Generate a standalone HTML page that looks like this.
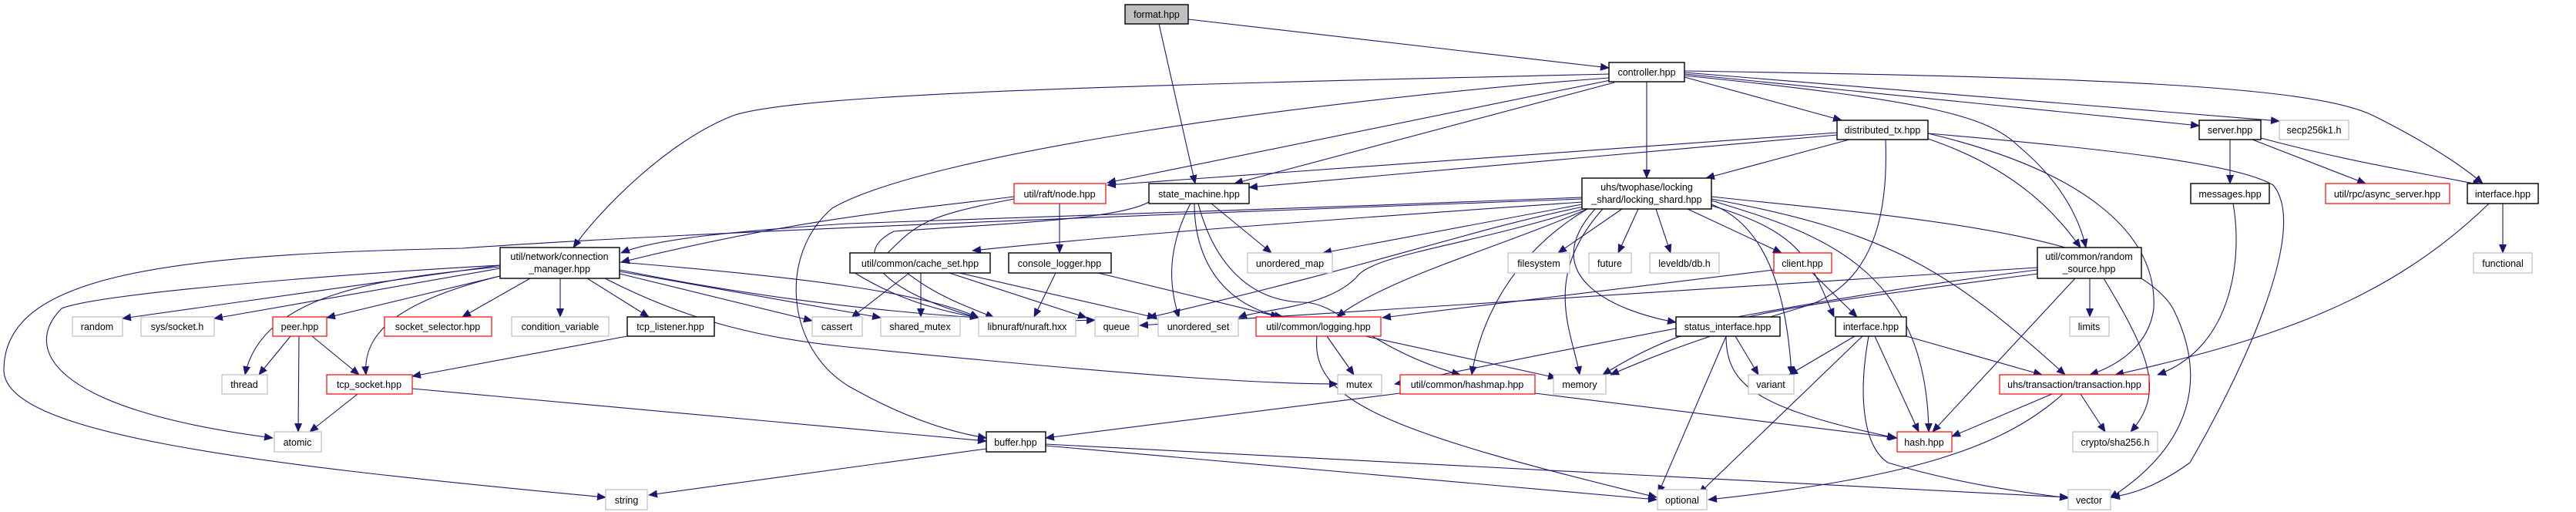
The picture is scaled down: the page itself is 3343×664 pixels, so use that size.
<!DOCTYPE html>
<html><head><meta charset="utf-8"><style>
html,body{margin:0;padding:0;background:#fff;}
svg{display:block}
text{font-family:"Liberation Sans",sans-serif;font-size:12.5px;fill:#000;text-anchor:middle}
.n{fill:#fff;stroke:#000;stroke-width:1.4}
.r{fill:#fff;stroke:#f00;stroke-width:1.2}
.g{fill:#fff;stroke:#bfbfbf;stroke-width:1.2}
.e{fill:none;stroke:#191970;stroke-width:1.1}
</style></head><body>
<svg width="3343" height="664" viewBox="0 0 3343 664" xmlns="http://www.w3.org/2000/svg">
<defs><marker id="a" markerUnits="userSpaceOnUse" markerWidth="12" markerHeight="10" refX="11" refY="5" orient="auto"><path d="M0,0 L12,5 L0,10 z" fill="#191970"/></marker></defs>
<g marker-end="url(#a)">
<path class="e" d="M1542,25 L2088,88"/>
<path class="e" d="M1504,31 L1551,238"/>
<path class="e" d="M2088,96 C1500,110 1050,120 954,149 C870,180 780,270 744,321"/>
<path class="e" d="M2088,101 C1700,130 1200,200 1080,270 C1010,330 1020,450 1100,500 C1170,540 1230,560 1280,568"/>
<path class="e" d="M2090,104 L1437,237"/>
<path class="e" d="M2095,107 L1602,238"/>
<path class="e" d="M2137,106 L2137,231"/>
<path class="e" d="M2186,100 L2390,156"/>
<path class="e" d="M2186,96 L2854,163"/>
<path class="e" d="M2186,94 L2958,157"/>
<path class="e" d="M2186,92 C2700,100 3000,110 3080,150 C3150,185 3195,215 3222,238"/>
<path class="e" d="M2186,98 C2500,130 2580,150 2620,190 C2680,240 2700,290 2707,321"/>
<path class="e" d="M2053,256 C1700,270 1250,285 1100,290 C950,300 850,310 806,328"/>
<path class="e" d="M2053,258 C1600,275 900,300 600,322 C200,330 5,360 5,480 C5,560 300,600 786,645"/>
<path class="e" d="M2053,262 C1800,280 1500,300 1262,325"/>
<path class="e" d="M2053,265 L1717,328"/>
<path class="e" d="M2055,268 C1900,300 1800,340 1490,412"/>
<path class="e" d="M2058,270 C1900,320 1780,330 1760,360 C1720,400 1640,400 1607,412"/>
<path class="e" d="M2060,271 C1950,320 1800,360 1735,411"/>
<path class="e" d="M2105,271 L2022,328"/>
<path class="e" d="M2126,271 L2100,328"/>
<path class="e" d="M2149,271 L2168,328"/>
<path class="e" d="M2190,271 L2312,328"/>
<path class="e" d="M2070,271 C1990,360 2100,405 2175,418"/>
<path class="e" d="M2060,271 C1960,330 1920,420 1910,486"/>
<path class="e" d="M2215,265 C2340,300 2350,340 2380,411"/>
<path class="e" d="M2215,263 C2300,290 2320,400 2325,486"/>
<path class="e" d="M2221,260 C2350,300 2500,340 2503,560"/>
<path class="e" d="M2221,258 C2450,300 2530,350 2680,486"/>
<path class="e" d="M2221,255 C2450,280 2760,300 2820,400 C2880,520 2810,600 2738,646"/>
<path class="e" d="M2080,271 C2000,360 2040,430 2050,486"/>
<path class="e" d="M649,344 L159,413"/>
<path class="e" d="M649,348 L278,413"/>
<path class="e" d="M649,358 L424,412"/>
<path class="e" d="M649,346 C500,360 340,380 318,486"/>
<path class="e" d="M649,358 C520,390 470,430 475,486"/>
<path class="e" d="M649,344 C450,355 130,380 80,400 C30,450 60,530 354,568"/>
<path class="e" d="M688,361 L600,411"/>
<path class="e" d="M727,361 L727,411"/>
<path class="e" d="M762,361 L842,411"/>
<path class="e" d="M804,355 L1054,416"/>
<path class="e" d="M804,352 L1143,412"/>
<path class="e" d="M804,340 C1050,360 1200,380 1270,412"/>
<path class="e" d="M804,350 C1050,400 1300,420 1421,415"/>
<path class="e" d="M785,361 C900,420 1000,440 1100,450 C1500,490 1650,498 1736,498"/>
<path class="e" d="M377,436 L336,486"/>
<path class="e" d="M388,436 L387,560"/>
<path class="e" d="M405,436 L466,486"/>
<path class="e" d="M814,436 L535,488"/>
<path class="e" d="M464,511 L402,560"/>
<path class="e" d="M535,504 L1280,572"/>
<path class="e" d="M1316,255 C1200,270 1050,280 806,340"/>
<path class="e" d="M1316,258 C1200,280 1190,290 1150,330 C1200,380 1250,395 1290,412"/>
<path class="e" d="M1375,264 L1375,328"/>
<path class="e" d="M1491,262 C1450,285 1300,290 1160,300 C1100,330 1150,380 1270,412"/>
<path class="e" d="M1545,264 C1510,330 1520,380 1530,412"/>
<path class="e" d="M1550,264 C1550,350 1600,400 1665,411"/>
<path class="e" d="M1555,264 C1575,340 1620,390 1690,392 C1740,392 1770,450 1895,486"/>
<path class="e" d="M1572,264 L1650,328"/>
<path class="e" d="M1180,354 L1105,412"/>
<path class="e" d="M1195,354 L1195,411"/>
<path class="e" d="M1232,354 L1410,412"/>
<path class="e" d="M1245,354 L1500,412"/>
<path class="e" d="M1103,350 C1150,380 1200,400 1270,412"/>
<path class="e" d="M1370,354 L1342,411"/>
<path class="e" d="M1425,354 L1660,411"/>
<path class="e" d="M1722,436 L1757,486"/>
<path class="e" d="M1772,436 L2020,490"/>
<path class="e" d="M1709,436 C1700,520 1800,560 2150,645"/>
<path class="e" d="M1817,510 L1357,568"/>
<path class="e" d="M1992,510 L2462,568"/>
<path class="e" d="M1357,578 L2150,648"/>
<path class="e" d="M1357,576 L2684,645"/>
<path class="e" d="M1280,582 L842,642"/>
<path class="e" d="M2384,172 L1437,240"/>
<path class="e" d="M2384,175 L1621,243"/>
<path class="e" d="M2400,181 L2214,231"/>
<path class="e" d="M2502,180 C2620,220 2670,280 2700,321"/>
<path class="e" d="M2502,173 C2700,220 2800,300 2795,400 C2790,440 2760,470 2712,486"/>
<path class="e" d="M2502,173 C2700,190 2900,210 2950,240 C3000,300 2900,500 2842,600 C2800,630 2770,640 2740,645"/>
<path class="e" d="M2447,181 C2450,260 2440,360 2350,395 C2200,440 2150,460 2090,486"/>
<path class="e" d="M2894,181 L2894,238"/>
<path class="e" d="M2923,181 L3070,238"/>
<path class="e" d="M2934,179 C3050,210 3120,220 3220,240"/>
<path class="e" d="M2898,264 C2910,330 2900,450 2800,486"/>
<path class="e" d="M3248,264 L3248,328"/>
<path class="e" d="M3230,264 C3100,390 2950,440 2745,486"/>
<path class="e" d="M2693,361 L2508,560"/>
<path class="e" d="M2712,361 L2712,411"/>
<path class="e" d="M2730,361 C2790,460 2810,510 2765,560"/>
<path class="e" d="M2644,347 L1479,422"/>
<path class="e" d="M2644,350 C2400,380 2200,420 1810,498"/>
<path class="e" d="M2645,355 C2300,400 2200,410 2080,486"/>
<path class="e" d="M2352,354 L2410,411"/>
<path class="e" d="M2302,350 L1794,412"/>
<path class="e" d="M2252,436 L2282,486"/>
<path class="e" d="M2240,436 L2152,640"/>
<path class="e" d="M2240,436 C2240,500 2280,530 2460,568"/>
<path class="e" d="M2407,436 L2322,486"/>
<path class="e" d="M2417,436 L2205,640"/>
<path class="e" d="M2433,436 L2490,560"/>
<path class="e" d="M2425,436 C2410,520 2420,580 2450,600 C2550,630 2640,640 2684,646"/>
<path class="e" d="M2474,436 L2650,486"/>
<path class="e" d="M2663,511 L2533,566"/>
<path class="e" d="M2700,511 L2732,560"/>
<path class="e" d="M2677,511 C2600,580 2480,620 2217,648"/>
</g>
<rect x="1460" y="6" width="82" height="25" fill="#bfbfbf" stroke="#000" stroke-width="1.4"/><text x="1501" y="23">format.hpp</text>
<rect class="n" x="2088" y="81" width="98" height="25"/><text x="2137" y="98">controller.hpp</text>
<rect class="r" x="1316" y="238" width="119" height="26"/><text x="1375" y="256">util/raft/node.hpp</text>
<rect class="n" x="1491" y="238" width="130" height="26"/><text x="1556" y="256">state_machine.hpp</text>
<rect class="n" x="2053" y="231" width="168" height="40"/><text x="2137" y="247">uhs/twophase/locking</text><text x="2137" y="263">_shard/locking_shard.hpp</text>
<rect class="n" x="2384" y="156" width="118" height="25"/><text x="2443" y="173">distributed_tx.hpp</text>
<rect class="n" x="2854" y="156" width="80" height="25"/><text x="2894" y="173">server.hpp</text>
<rect class="g" x="2958" y="156" width="90" height="25"/><text x="3003" y="173">secp256k1.h</text>
<rect class="n" x="2843" y="238" width="102" height="26"/><text x="2894" y="256">messages.hpp</text>
<rect class="r" x="3018" y="238" width="161" height="26"/><text x="3098" y="256">util/rpc/async_server.hpp</text>
<rect class="n" x="3202" y="238" width="92" height="26"/><text x="3248" y="256">interface.hpp</text>
<rect class="n" x="649" y="321" width="155" height="40"/><text x="726" y="337">util/network/connection</text><text x="726" y="353">_manager.hpp</text>
<rect class="n" x="1103" y="328" width="182" height="26"/><text x="1194" y="346">util/common/cache_set.hpp</text>
<rect class="n" x="1309" y="328" width="133" height="26"/><text x="1375" y="346">console_logger.hpp</text>
<rect class="g" x="1619" y="328" width="110" height="26"/><text x="1674" y="346">unordered_map</text>
<rect class="g" x="1957" y="328" width="80" height="26"/><text x="1997" y="346">filesystem</text>
<rect class="g" x="2062" y="328" width="55" height="26"/><text x="2089" y="346">future</text>
<rect class="g" x="2141" y="328" width="90" height="26"/><text x="2186" y="346">leveldb/db.h</text>
<rect class="r" x="2302" y="328" width="75" height="26"/><text x="2339" y="346">client.hpp</text>
<rect class="n" x="2644" y="321" width="135" height="40"/><text x="2711" y="337">util/common/random</text><text x="2711" y="353">_source.hpp</text>
<rect class="g" x="3210" y="328" width="76" height="26"/><text x="3248" y="346">functional</text>
<rect class="g" x="94" y="411" width="65" height="25"/><text x="126" y="428">random</text>
<rect class="g" x="183" y="411" width="95" height="25"/><text x="230" y="428">sys/socket.h</text>
<rect class="r" x="354" y="411" width="70" height="25"/><text x="389" y="428">peer.hpp</text>
<rect class="r" x="499" y="411" width="139" height="25"/><text x="568" y="428">socket_selector.hpp</text>
<rect class="g" x="664" y="411" width="126" height="25"/><text x="727" y="428">condition_variable</text>
<rect class="n" x="814" y="411" width="113" height="25"/><text x="870" y="428">tcp_listener.hpp</text>
<rect class="g" x="1054" y="411" width="65" height="25"/><text x="1086" y="428">cassert</text>
<rect class="g" x="1143" y="411" width="103" height="25"/><text x="1194" y="428">shared_mutex</text>
<rect class="g" x="1270" y="411" width="126" height="25"/><text x="1333" y="428">libnuraft/nuraft.hxx</text>
<rect class="g" x="1421" y="411" width="56" height="25"/><text x="1449" y="428">queue</text>
<rect class="g" x="1503" y="411" width="104" height="25"/><text x="1555" y="428">unordered_set</text>
<rect class="r" x="1630" y="411" width="162" height="25"/><text x="1711" y="428">util/common/logging.hpp</text>
<rect class="n" x="2175" y="411" width="135" height="25"/><text x="2242" y="428">status_interface.hpp</text>
<rect class="n" x="2382" y="411" width="92" height="25"/><text x="2428" y="428">interface.hpp</text>
<rect class="g" x="2686" y="411" width="51" height="25"/><text x="2711" y="428">limits</text>
<rect class="g" x="288" y="486" width="59" height="25"/><text x="317" y="503">thread</text>
<rect class="r" x="424" y="486" width="111" height="25"/><text x="479" y="503">tcp_socket.hpp</text>
<rect class="g" x="1736" y="486" width="57" height="25"/><text x="1764" y="503">mutex</text>
<rect class="r" x="1817" y="486" width="175" height="25"/><text x="1904" y="503">util/common/hashmap.hpp</text>
<rect class="g" x="2016" y="486" width="68" height="25"/><text x="2050" y="503">memory</text>
<rect class="g" x="2269" y="486" width="59" height="25"/><text x="2298" y="503">variant</text>
<rect class="r" x="2595" y="486" width="194" height="25"/><text x="2692" y="503">uhs/transaction/transaction.hpp</text>
<rect class="g" x="356" y="560" width="61" height="26"/><text x="386" y="578">atomic</text>
<rect class="n" x="1280" y="560" width="77" height="26"/><text x="1318" y="578">buffer.hpp</text>
<rect class="r" x="2462" y="560" width="71" height="26"/><text x="2497" y="578">hash.hpp</text>
<rect class="g" x="2690" y="560" width="110" height="26"/><text x="2745" y="578">crypto/sha256.h</text>
<rect class="g" x="786" y="635" width="54" height="26"/><text x="813" y="653">string</text>
<rect class="g" x="2151" y="635" width="64" height="26"/><text x="2183" y="653">optional</text>
<rect class="g" x="2684" y="635" width="55" height="26"/><text x="2711" y="653">vector</text>
</svg>
</body></html>
